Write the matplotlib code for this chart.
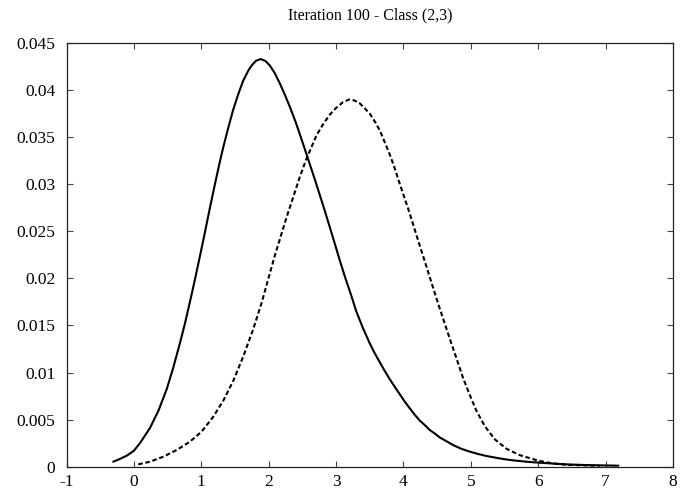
import matplotlib
matplotlib.use("Agg")
import matplotlib.pyplot as plt

plt.rcParams["font.family"] = ["Liberation Serif", "DejaVu Serif"]
plt.rcParams["axes.unicode_minus"] = False

# solid curve
solid_x = [-0.307, -0.2, -0.1, 0.0, 0.089, 0.237, 0.361, 0.485, 0.583, 0.682,
           0.757, 0.831, 0.9, 0.954, 1.028, 1.128, 1.202, 1.266, 1.325, 1.4,
           1.473, 1.55, 1.622, 1.7, 1.746, 1.81, 1.88, 1.95, 2.018, 2.09,
           2.166, 2.24, 2.315, 2.39, 2.463, 2.57, 2.685, 2.81, 2.93, 3.056,
           3.13, 3.22, 3.30, 3.40, 3.50, 3.57, 3.648, 3.72, 3.796, 3.87,
           3.945, 4.02, 4.094, 4.17, 4.242, 4.32, 4.39, 4.47, 4.54, 4.64,
           4.737, 4.86, 4.985, 5.11, 5.23, 5.36, 5.48, 5.6, 5.73, 5.88,
           6.03, 6.25, 6.45, 6.7, 6.95, 7.19]
solid_y = [0.00053, 0.00085, 0.0012, 0.0017, 0.0025, 0.0041, 0.0059, 0.0082, 0.0105, 0.0131,
           0.0152, 0.0175, 0.0197, 0.0215, 0.0240, 0.0275, 0.0300, 0.0321, 0.0339, 0.0360,
           0.0379, 0.0396, 0.0410, 0.0421, 0.0426, 0.0431, 0.0433, 0.0431, 0.0426, 0.0418,
           0.0407, 0.0395, 0.0382, 0.0368, 0.0353, 0.0330, 0.0305, 0.0277, 0.0249, 0.0219,
           0.0202, 0.0183, 0.0165, 0.0147, 0.0131, 0.0121, 0.0111, 0.0102, 0.0093, 0.0085,
           0.0077, 0.0069, 0.0062, 0.0055, 0.0049, 0.0044, 0.0039, 0.0035, 0.0031, 0.0027,
           0.0023, 0.0019, 0.0016, 0.00135, 0.00114, 0.00097, 0.00082, 0.0007, 0.0006, 0.0005,
           0.00042, 0.00032, 0.00024, 0.00018, 0.00014, 0.00011]

# dashed curve
dash_x = [0.064, 0.237, 0.435, 0.633, 0.831, 1.004, 1.177, 1.325, 1.473, 1.622,
          1.77, 1.895, 1.969, 2.09, 2.266, 2.463, 2.56, 2.71, 2.81, 2.908,
          3.0, 3.1, 3.194, 3.27, 3.35, 3.42, 3.50, 3.58, 3.65, 3.72,
          3.80, 3.87, 3.947, 4.07, 4.228, 4.37, 4.52, 4.678, 4.787, 4.886,
          4.985, 5.085, 5.208, 5.357, 5.53, 5.73, 6.0, 6.22, 6.42, 6.91]
dash_y = [0.00025, 0.00053, 0.00106, 0.00177, 0.00266, 0.00372, 0.0053, 0.0070, 0.0091, 0.0117,
          0.0146, 0.0174, 0.0193, 0.0224, 0.0265, 0.0308, 0.0327, 0.0352, 0.0364, 0.0374,
          0.0381, 0.0387, 0.0390, 0.0389, 0.0386, 0.0381, 0.0375, 0.0366, 0.0357, 0.0345,
          0.0331, 0.0317, 0.0300, 0.0274, 0.0238, 0.0206, 0.0172, 0.0138, 0.0115, 0.0094,
          0.0076, 0.0059, 0.0043, 0.0029, 0.0019, 0.00122, 0.00064, 0.00035, 0.0002, 0.0001]

xticks = [-1, 0, 1, 2, 3, 4, 5, 6, 7, 8]
yticks = [0, 0.005, 0.01, 0.015, 0.02, 0.025, 0.03, 0.035, 0.04, 0.045]
ytick_labels = ["0", "0.005", "0.01", "0.015", "0.02", "0.025", "0.03", "0.035", "0.04", "0.045"]

fig = plt.figure(figsize=(6.88, 4.93), dpi=100)
ax = fig.add_axes([0.0967, 0.0533, 0.8815, 0.8595])

ax.plot(solid_x, solid_y, color="black", lw=1.5, solid_capstyle="round",
        solid_joinstyle="round")
ax.plot(dash_x, dash_y, color="black", lw=1.5, linestyle=(0, (2.2, 1.3)))

ax.set_xlim(-1, 8)
ax.set_ylim(0, 0.045)
ax.set_xticks(xticks)
ax.set_xticklabels([str(t) for t in xticks])
ax.set_yticks(yticks)
ax.set_yticklabels(ytick_labels)

ax.tick_params(direction="in", length=4.5, width=0.8, pad=8, labelsize=12.5,
               top=True, right=True, color="#444444")
ax.tick_params(axis="x", pad=5.5)
for s in ax.spines.values():
    s.set_linewidth(0.9)
    s.set_color("#222222")

ax.set_title("Iteration 100 - Class (2,3)", fontsize=11.5, pad=17)

fig.savefig("out.png", dpi=100)
